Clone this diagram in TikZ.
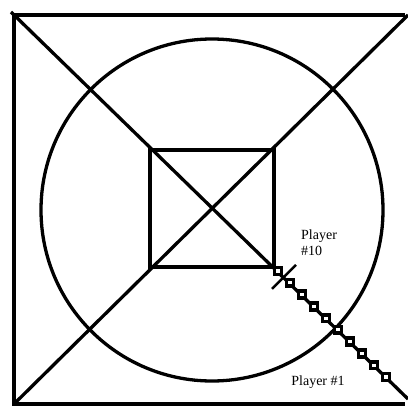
\documentclass[tikz,border=0pt]{standalone}
\usepackage{fontspec}
\setmainfont{Liberation Serif}
\usepackage{tikz}
\usetikzlibrary{calc}
\definecolor{mydark}{RGB}{0,0,0}
\tikzset{
  thickline/.style={line width=3.3pt, color=mydark},
  seat/.style={rectangle, draw=mydark, fill=white, line width=3.6pt,
    minimum size=6.8pt, inner sep=0pt},
  label/.style={font=\fontsize{14}{16}\selectfont, align=left, inner sep=0pt}
}

\begin{document}
\begin{tikzpicture}[x=1pt, y=-1pt]
  \useasboundingbox (0,0) rectangle (407,409);

  % Outer frame (right side falls off the page)
  \coordinate (tl) at (14,15);
  \coordinate (bl) at (14,404);
  \draw[thickline] (405,15) -- (tl) -- (bl) -- (405,404);

  % Diagonals
  \coordinate (dstart) at (11,12);
  \coordinate (dend) at (408,399);
  \coordinate (tr) at (408,15);
  \draw[thickline] (dstart) -- (dend);
  \draw[thickline] (bl) -- (tr);

  % Table and room
  \draw[thickline] (212,210) circle (171);
  \draw[thickline] (150,150) rectangle (274,267);

  % Players along the diagonal
  \coordinate (first) at (278,271);
  \coordinate (last) at (386,377);
  \foreach \i in {0,...,9}
    \node[seat] (p\i) at ($(first)!\i/9!(last)$) {};

  % Tick mark between the first two players
  \coordinate (tick) at ($(p0)!0.5!(p1)$);
  \draw[line width=2.4pt] ($(tick)+(-12,12)$) -- ($(tick)+(12,-12)$);

  % Labels
  \node[label, anchor=north west] (ptop) at (301,230) {Player\\\#10};
  \node[label] (pbot) at (318,382) {Player \#1};
\end{tikzpicture}
\end{document}
